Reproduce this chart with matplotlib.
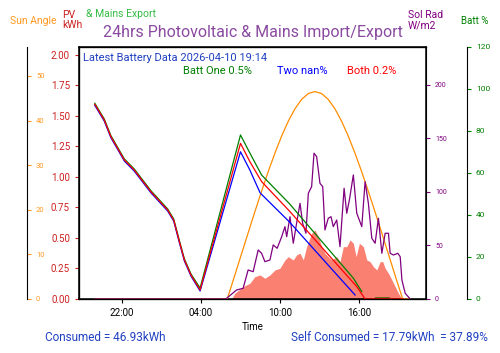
import pandas as pd
import matplotlib.pyplot as plt
import matplotlib.dates as mdates

plt.rcParams['font.family'] = ['Roboto', 'DejaVu Sans']

# times are hours relative to midnight 2026-04-10 (negative = previous evening)
day = pd.Timestamp("2026-04-10")

# PV generation (kWh)
pv_hours = [6.33, 6.58, 7.21, 7.72, 8.10, 8.48, 8.86, 9.24, 9.62, 10.00, 10.38, 10.63,
            11.01, 11.26, 11.52, 11.77, 12.02, 12.40, 12.65, 12.91, 13.16, 13.41, 13.66,
            13.92, 14.30, 14.55, 14.80, 15.06, 15.31, 15.56, 15.77, 16.02, 16.32, 16.58,
            16.83, 17.08, 17.34, 17.59, 17.79, 17.97, 18.22, 18.48, 18.73, 18.98, 19.24]
pv_kwh = [0, 0.047, 0.101, 0.129, 0.183, 0.197, 0.170, 0.197, 0.238, 0.252, 0.320, 0.347,
          0.320, 0.361, 0.375, 0.320, 0.429, 0.539, 0.566, 0.511, 0.429, 0.375, 0.347,
          0.320, 0.347, 0.306, 0.429, 0.429, 0.484, 0.457, 0.347, 0.457, 0.429, 0.320,
          0.306, 0.265, 0.238, 0.306, 0.306, 0.252, 0.211, 0.156, 0.101, 0.047, 0]

# mains export (kWh)
export_hours = [17.21, 18.30]
export_kwh = [0.02, 0.02]

# sun elevation (degrees)
sun_hours = [-4.03, 6.00, 6.15, 6.65, 7.15, 7.65, 8.15, 8.65, 9.15, 9.65, 10.15, 10.65,
             11.15, 11.65, 12.15, 12.65, 13.15, 13.65, 14.15, 14.65, 15.15, 15.65, 16.15,
             16.65, 17.15, 17.65, 18.15, 18.65, 19.15, 19.30, 19.87]
sun_angle = [0, 0, 1.33, 5.99, 10.69, 15.39, 20.02, 24.54, 28.88, 32.95, 36.69, 39.97,
             42.71, 44.77, 46.06, 46.5, 46.06, 44.77, 42.71, 39.97, 36.69, 32.95, 28.88,
             24.54, 20.02, 15.39, 10.69, 5.99, 1.33, 0, 0]

# solar radiation (W/m2)
rad_hours = [-4.03, 5.90, 6.71, 7.21, 7.59, 7.97, 8.35, 8.61, 8.86, 9.24, 9.49, 9.79,
             10.13, 10.38, 10.51, 10.76, 11.01, 11.26, 11.52, 11.72, 11.97, 12.15, 12.40,
             12.58, 12.78, 13.03, 13.24, 13.41, 13.66, 13.87, 14.04, 14.30, 14.55, 14.86,
             15.06, 15.26, 15.56, 15.82, 16.20, 16.45, 16.70, 16.96, 17.21, 17.46, 17.72,
             17.97, 18.22, 18.35, 18.60, 18.93, 19.11, 19.24, 19.49, 19.87]
rad_wm2 = [0, 0, 8.4, 10.0, 27.1, 25.5, 45.8, 42.7, 34.9, 36.4, 50.5, 47.4,
           58.2, 67.6, 58.2, 76.9, 52.1, 70.7, 89.4, 70.7, 61.4, 98.8, 105.0,
           136.2, 133.0, 108.1, 105.0, 64.5, 75.4, 76.9, 67.6, 73.8, 48.9, 103.5,
           80.1, 92.5, 115.9, 80.1, 67.6, 109.6, 89.4, 56.7, 52.1, 75.4, 42.7,
           61.4, 61.4, 42.7, 41.1, 42.7, 39.5, 17.8, 5.3, 0]

# battery state of charge (%)
red_hours = [-4.03, -3.31, -2.81, -1.79, -1.04, 0.22, 1.49, 1.95, 2.38, 2.76, 3.26, 3.95,
             7.01, 7.72, 8.61, 10.70, 15.82, 16.45, 19.34]
both_pct = [92.7, 85.2, 77.3, 66.2, 61.4, 51.1, 42.4, 37.6, 27.3, 18.6, 11.4, 4.3,
            74.1, 65.4, 55.9, 42.0, 5.9, 0, 0]
green_hours = [-4.03, -3.31, -2.81, -1.79, -1.04, 0.22, 1.49, 1.95, 2.38, 2.76, 3.26, 3.95,
               7.01, 7.72, 8.61, 10.70, 15.56, 16.20]
one_pct = [93.2, 85.7, 77.8, 66.7, 61.9, 51.6, 42.9, 38.1, 27.8, 19.1, 11.9, 5.2,
           78.1, 69.5, 59.0, 45.5, 9.9, 3.5]
blue_hours = [-4.03, -3.31, -2.81, -1.79, -1.04, 0.22, 1.49, 1.95, 2.38, 2.76, 3.26, 3.95,
              7.01, 7.72, 8.50, 10.70, 15.69]
two_pct = [92.2, 84.7, 76.8, 65.7, 60.9, 50.6, 41.9, 37.1, 26.8, 18.1, 10.9, 3.8,
           70.1, 61.4, 50.5, 36.8, 1.9]


def to_time(hours):
    return day + pd.to_timedelta(hours, unit="h")


fig = plt.figure(figsize=(5, 3.53), dpi=100)
ax = fig.add_axes([0.158, 0.153, 0.694, 0.714])

# PV and export on main axis
ax.fill_between(to_time(pv_hours), 0, pv_kwh, color="salmon", lw=0)
ax.fill_between(to_time(export_hours), 0, export_kwh, color="#6b6b1f", lw=0)
ax.set_ylim(0, 2.066)
ax.tick_params(axis="y", colors="#cc2020", labelsize=7, length=3)
ax.tick_params(axis="x", labelsize=7, length=3)
ax.set_yticks([0, 0.25, 0.5, 0.75, 1.0, 1.25, 1.5, 1.75, 2.0])
ax.yaxis.set_major_formatter(plt.FormatStrFormatter("%.2f"))
ax.set_xlabel("Time", fontsize=7, labelpad=3)
for sp in ax.spines.values():
    sp.set_linewidth(1.1)

# sun angle axis, offset to the left
ax_sun = ax.twinx()
ax_sun.spines["right"].set_position(("axes", -0.15))
ax_sun.plot(to_time(sun_hours), sun_angle, color="darkorange", lw=0.9)
ax_sun.set_ylim(0, 56.5)
ax_sun.set_yticks([0, 10, 20, 30, 40, 50])
ax_sun.tick_params(axis="y", colors="#ff9922", labelsize=5.5, length=3)

# solar radiation
ax_rad = ax.twinx()
ax_rad.plot(to_time(rad_hours), rad_wm2, color="purple", lw=0.9)
ax_rad.set_ylim(0, 235.5)
ax_rad.set_yticks([0, 50, 100, 150, 200])
ax_rad.tick_params(axis="y", colors="purple", labelsize=5, length=3)

# battery
ax_bat = ax.twinx()
ax_bat.spines["right"].set_position(("axes", 1.118))
ax_bat.plot(to_time(green_hours), one_pct, color="green", lw=0.9)
ax_bat.plot(to_time(blue_hours), two_pct, color="blue", lw=0.9)
ax_bat.plot(to_time(red_hours), both_pct, color="red", lw=0.9)
ax_bat.set_ylim(0, 120)
ax_bat.set_yticks([0, 20, 40, 60, 80, 100, 120])
ax_bat.tick_params(axis="y", colors="green", labelsize=6, length=3)

for a in (ax_sun, ax_rad, ax_bat):
    for sp in a.spines.values():
        sp.set_color("black")

ax.xaxis.set_major_locator(mdates.HourLocator(byhour=[4, 10, 16, 22]))
ax.xaxis.set_major_formatter(mdates.DateFormatter("%H:%M"))

# text inside plot
ax.text(0.012, 0.975, "Latest Battery Data 2026-04-10 19:14", transform=ax.transAxes,
        color="#2040c0", fontsize=8, va="top")
ax.text(0.30, 0.925, "Batt One 0.5%", transform=ax.transAxes, color="green", fontsize=8, va="top")
ax.text(0.571, 0.925, "Two nan%", transform=ax.transAxes, color="blue", fontsize=8, va="top")
ax.text(0.772, 0.925, "Both 0.2%", transform=ax.transAxes, color="red", fontsize=8, va="top")

# labels around the plot
fig.text(0.02, 0.941, "Sun Angle", color="#ff9922", fontsize=7.5, va="center")
fig.text(0.124, 0.943, "PV\nkWh", color="#cc2020", fontsize=7.5, va="center", linespacing=1.0)
fig.text(0.172, 0.960, "& Mains Export", color="#33bb44", fontsize=7.5, va="center")
fig.text(0.506, 0.907, "24hrs Photovoltaic & Mains Import/Export", color="#8a4aa0",
         fontsize=11.5, ha="center", va="center")
fig.text(0.816, 0.943, "Sol Rad\nW/m2", color="purple", fontsize=7.5, va="center", linespacing=1.0)
fig.text(0.922, 0.941, "Batt %", color="green", fontsize=7, va="center")

fig.text(0.09, 0.045, "Consumed = 46.93kWh", color="#2040c0", fontsize=8.5, va="center")
fig.text(0.976, 0.045, "Self Consumed = 17.79kWh  = 37.89%", color="#2040c0", fontsize=8.5,
         ha="right", va="center")

plt.savefig("out.png", dpi=100)
